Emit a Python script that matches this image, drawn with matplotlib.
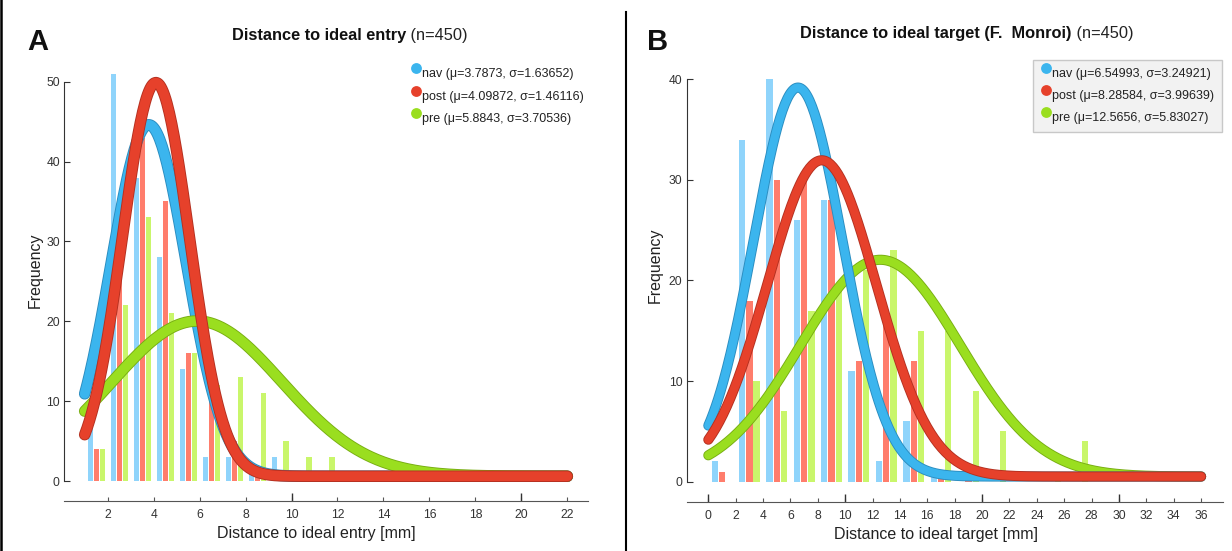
import numpy as np
import matplotlib
matplotlib.use("Agg")
import matplotlib.pyplot as plt
from matplotlib.lines import Line2D
from matplotlib.text import Annotation
from matplotlib.ticker import FixedLocator
from matplotlib.legend_handler import HandlerLine2D
import matplotlib.patheffects as pe

plt.rcParams['font.family'] = ['Liberation Sans', 'DejaVu Sans']

# ---------------- data ----------------
series_names = ["nav", "post", "pre"]

# Panel A: distance to ideal entry (1 mm bins)
A_centers = [1.5, 2.5, 3.5, 4.5, 5.5, 6.5, 7.5, 8.5, 9.5, 10.5, 11.5]
A_nav = [7, 51, 38, 28, 14, 3, 3, 1, 3, 0, 0]
A_post = [4, 34, 43, 35, 16, 11, 5, 1, 0, 0, 0]
A_pre = [4, 22, 33, 21, 16, 12, 13, 11, 5, 3, 3]
A_mu = [3.7873, 4.09872, 5.8843]
A_sigma = [1.63652, 1.46116, 3.70536]
A_mu_txt = ["3.7873", "4.09872", "5.8843"]
A_sigma_txt = ["1.63652", "1.46116", "3.70536"]
A_xticks = [2, 4, 6, 8, 10, 12, 14, 16, 18, 20, 22]
A_yticks = [0, 10, 20, 30, 40, 50]

# Panel B: distance to ideal target (2 mm bins)
B_centers = [1, 3, 5, 7, 9, 11, 13, 15, 17, 19, 21, 23, 25, 27]
B_nav = [2, 34, 40, 26, 28, 11, 2, 6, 1, 0, 0, 0, 0, 0]
B_post = [1, 18, 30, 30, 28, 12, 17, 12, 1, 1, 0, 0, 0, 0]
B_pre = [0, 10, 7, 17, 19, 21, 23, 15, 15, 9, 5, 0, 1, 4]
B_mu = [6.54993, 8.28584, 12.5656]
B_sigma = [3.24921, 3.99639, 5.83027]
B_mu_txt = ["6.54993", "8.28584", "12.5656"]
B_sigma_txt = ["3.24921", "3.99639", "5.83027"]
B_xticks = list(range(0, 37, 2))
B_yticks = [0, 10, 20, 30, 40]

# ---------------- style ----------------
line_colors = ["#3bb5ee", "#e6412b", "#9ade1f"]
edge_colors = ["#2a8cbf", "#b33020", "#77ad12"]
bar_colors = ["#8fd4fb", "#ff7d6c", "#c9f66b"]
W, H = 1232, 551

fig = plt.figure(figsize=(W / 100, H / 100), dpi=100)


def fx(px):
    return px / W


def fy(py):
    return 1 - py / H


class RaisedMarker(HandlerLine2D):
    """Legend marker drawn slightly above the text centre."""
    def create_artists(self, legend, orig_handle, xdescent, ydescent, width,
                       height, fontsize, trans):
        arts = super().create_artists(legend, orig_handle, xdescent, ydescent,
                                      width, height, fontsize, trans)
        for a in arts:
            yd = np.asarray(a.get_ydata(), dtype=float)
            a.set_ydata(yd + 0.38 * fontsize)
        return arts


def panel(rect, centers, counts, offsets, bw, mus, sigmas, xr, scale, off,
          xlim, ylim, ybound, xticks, yticks, xlabel, xlab_x, ylab_pos, lw,
          order, mu_txt, sg_txt, legend_frame, leg_anchor, leg_kw):
    ax = fig.add_axes(rect)
    c = np.asarray(centers, dtype=float)
    for i, cnt in enumerate(counts):
        ax.bar(c + offsets[i], cnt, width=bw, color=bar_colors[i],
               linewidth=0, zorder=1)
    xs = np.linspace(xr[0], xr[1], 400)
    for i in order:
        ys = scale / (sigmas[i] * np.sqrt(2 * np.pi)) * \
            np.exp(-0.5 * ((xs - mus[i]) / sigmas[i]) ** 2) + off
        ax.plot(xs, ys, color=line_colors[i], lw=lw, solid_capstyle='round',
                zorder=3 + order.index(i),
                path_effects=[pe.Stroke(linewidth=lw + 1.3, foreground=edge_colors[i]),
                              pe.Normal()])
    ax.set_xlim(*xlim)
    ax.set_ylim(*ylim)
    for s in ["top", "right"]:
        ax.spines[s].set_visible(False)
    ax.spines["left"].set_bounds(*ybound)
    ax.spines["left"].set_color("#333333")
    ax.spines["bottom"].set_color("#555555")
    ax.set_xticks(xticks)
    ax.set_yticks(yticks)
    ax.xaxis.remove_overlapping_locs = False
    ax.xaxis.set_minor_locator(FixedLocator([t for t in xticks if t % 10 == 0]))
    ax.tick_params(axis="x", which="major", direction="in", length=3,
                   width=0.8, colors="#555555", labelcolor="#333333",
                   labelsize=8.7, pad=6)
    ax.tick_params(axis="x", which="minor", direction="in", length=6,
                   width=1.0, colors="#333333")
    ax.tick_params(axis="y", direction="in", length=4, width=0.8,
                   colors="#333333", labelsize=8.7, pad=3)
    ax.set_xlabel(xlabel, fontsize=11.5, color="#222222")
    ax.xaxis.set_label_coords(xlab_x, -0.058)
    ax.set_ylabel("Frequency", fontsize=11.5, color="#222222")
    ax.yaxis.set_label_coords(*ylab_pos)
    handles = [Line2D([], [], marker="o", linestyle="none", markersize=7.8,
                      markerfacecolor=line_colors[i], markeredgewidth=0)
               for i in range(3)]
    labels = [f"{series_names[i]} (\u03bc={mu_txt[i]}, \u03c3={sg_txt[i]})"
              for i in range(3)]
    leg = ax.legend(handles, labels, loc="upper left",
                    bbox_to_anchor=leg_anchor, bbox_transform=fig.transFigure,
                    frameon=legend_frame, fontsize=9, borderaxespad=0,
                    handlelength=0.8, handletextpad=0.08, labelspacing=0.82,
                    handler_map={Line2D: RaisedMarker()},
                    **leg_kw)
    for t in leg.get_texts():
        t.set_color("#222222")
    if legend_frame:
        fr = leg.get_frame()
        fr.set_facecolor("#f2f2f2")
        fr.set_edgecolor("#c8c8c8")
        fr.set_alpha(1)
        fr.set_boxstyle("square", pad=0)
    return ax


# Panel A
panel([fx(64), fy(501), fx(588) - fx(64), fy(65.7) - fy(501)],
      A_centers, [A_nav, A_post, A_pre], [-0.26, 0.0, 0.26], 0.22,
      A_mu, A_sigma, (1, 22), 180.5, 0.6,
      (0.1, 22.9), (-2.5, 52), (0, 50), A_xticks, A_yticks,
      "Distance to ideal entry [mm]", 0.481, (-0.04, 0.531), 7.0, [0, 2, 1],
      A_mu_txt, A_sigma_txt, False, (fx(411), fy(68.5)),
      dict(borderpad=0))

# Panel B
panel([fx(686.7), fy(501.7), fx(1223) - fx(686.7), fy(64.2) - fy(501.7)],
      B_centers, [B_nav, B_post, B_pre], [-0.53, 0.0, 0.53], 0.46,
      B_mu, B_sigma, (0, 36), 315, 0.5,
      (-1.58, 37.6), (-2, 41.5), (0, 40), B_xticks, B_yticks,
      "Distance to ideal target [mm]", 0.465, (-0.044, 0.541), 6.0, [2, 0, 1],
      B_mu_txt, B_sigma_txt, True, (fx(1033), fy(60)),
      dict(borderpad=0.62, fancybox=False))

# Titles (bold part + normal part)
tA = fig.text(fx(232), fy(40), "Distance to ideal entry", fontsize=11.8,
              fontweight="bold", ha="left", va="baseline", color="#111111")
fig.add_artist(Annotation(" (n=450)", xy=(1, 0), xycoords=tA, va="bottom",
                          ha="left", fontsize=11.8, color="#222222"))
tB = fig.text(fx(800), fy(38), "Distance to ideal target (F.  Monroi)",
              fontsize=11.8, fontweight="bold", ha="left", va="baseline",
              color="#111111")
fig.add_artist(Annotation(" (n=450)", xy=(1, 0), xycoords=tB, va="bottom",
                          ha="left", fontsize=11.8, color="#222222"))

# Panel letters
fig.text(fx(27), fy(50), "A", fontsize=21, fontweight="bold", ha="left",
         va="baseline", color="#111111")
fig.text(fx(647), fy(50), "B", fontsize=21, fontweight="bold", ha="left",
         va="baseline", color="#111111")

# Divider and left border
fig.add_artist(Line2D([fx(625.5), fx(625.5)], [0, fy(12)], color="black",
                      lw=1.5, transform=fig.transFigure))
fig.add_artist(Line2D([fx(1.2), fx(1.2)], [0, 1], color="black",
                      lw=1.8, transform=fig.transFigure))

fig.savefig("out.png", dpi=100)
